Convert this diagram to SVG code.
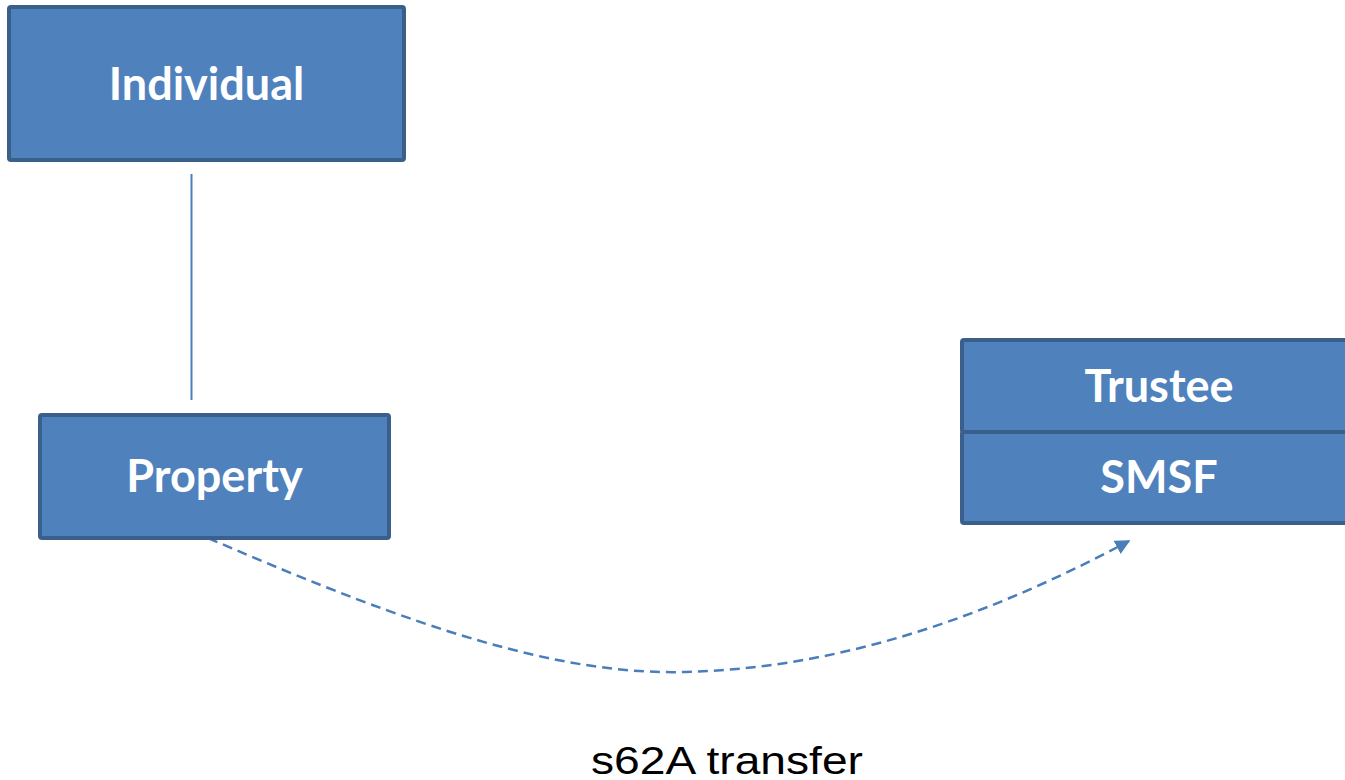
<svg xmlns="http://www.w3.org/2000/svg" width="1345" height="780" viewBox="0 0 1345 780">
  <style>
    .box { fill: #4f81bd; stroke: #3a5f8b; stroke-width: 4; }
    .label { font-family: Lato, "Open Sans", sans-serif; font-weight: bold; font-size: 45px; fill: #ffffff; text-anchor: middle; }
    .link { fill: none; stroke: #4a7ebb; stroke-width: 2; }
    .dashed { fill: none; stroke: #4a7ebb; stroke-width: 2.5; stroke-dasharray: 10 6; }
    .caption { font-family: "Liberation Sans", Arial, sans-serif; font-size: 38px; fill: #000000; text-anchor: middle; }
  </style>
  <defs>
    <marker id="arrow" viewBox="0 0 10 10" refX="9" refY="5" markerWidth="6" markerHeight="6" orient="auto" markerUnits="strokeWidth">
      <path d="M0,0 L10,5 L0,10 z" fill="#4a7ebb"/>
    </marker>
  </defs>
  <rect width="1345" height="780" fill="#ffffff"/>

  <g id="connectors">
    <line class="link" x1="191.5" y1="174" x2="191.5" y2="400"/>
    <path class="dashed" d="M208,538 C420,630 560,675 685,672 C850,668 1000,610 1129,541" marker-end="url(#arrow)"/>
  </g>

  <g id="individual">
    <rect class="box" x="9" y="7" width="395" height="153" rx="2"/>
    <text class="label" x="206.5" y="100">Individual</text>
  </g>

  <g id="property">
    <rect class="box" x="40" y="415" width="349" height="123" rx="2"/>
    <text class="label" x="214.5" y="492">Property</text>
  </g>

  <g id="trustee">
    <rect class="box" x="962" y="340" width="390" height="92" rx="2"/>
    <text class="label" x="1159" y="402">Trustee</text>
  </g>

  <g id="smsf">
    <rect class="box" x="962" y="432" width="390" height="91" rx="2"/>
    <text class="label" x="1159" y="493">SMSF</text>
  </g>

  <text class="caption" x="727" y="774" textLength="272" lengthAdjust="spacingAndGlyphs">s62A transfer</text>
</svg>
